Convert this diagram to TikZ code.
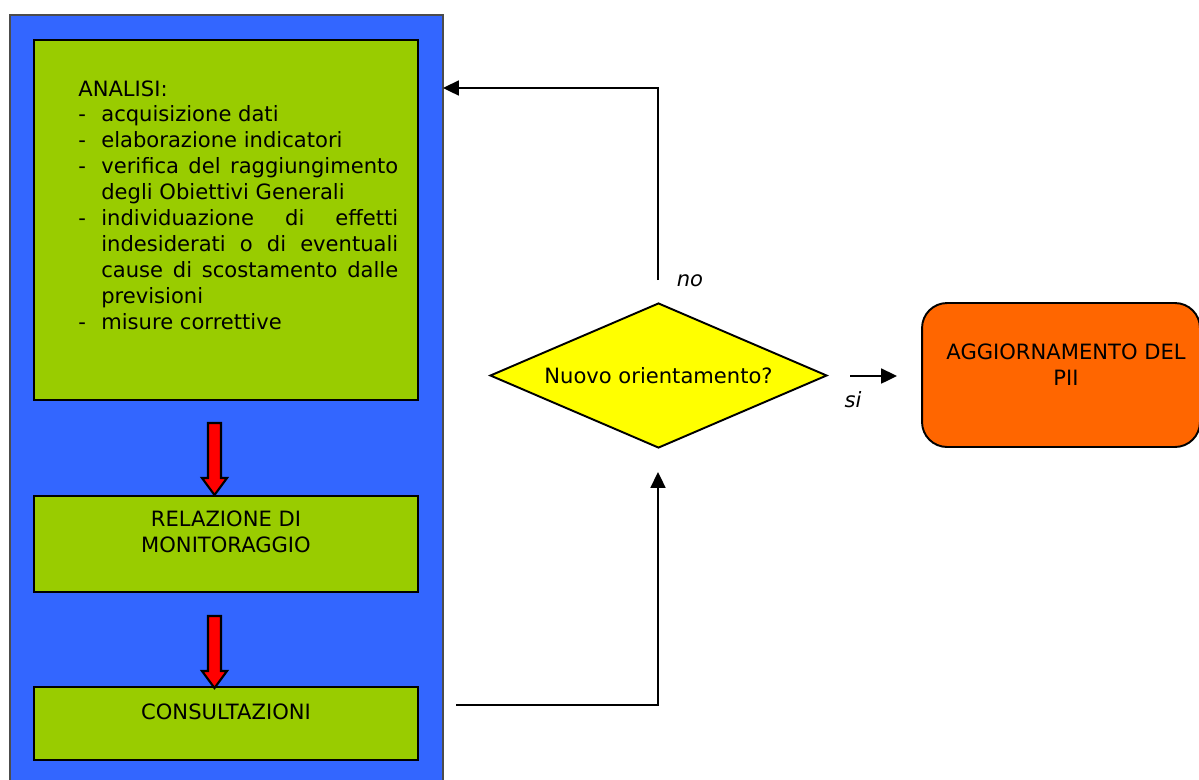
\documentclass[tikz,border=0pt]{standalone}
\usepackage{fontspec}
\setmainfont{DejaVu Sans}
\usetikzlibrary{shapes.geometric,arrows.meta}
\definecolor{blu}{HTML}{3366FF}
\definecolor{verde}{HTML}{99CC00}
\definecolor{rosso}{HTML}{FF0000}
\definecolor{giallo}{HTML}{FFFF00}
\definecolor{arancio}{HTML}{FF6600}
\newcommand\frecciarossa[2]{\draw[rossa] (#1,#2) -- ++(13,0) -- ++(0,55) -- ++(6,0) -- ++(-12.5,17) -- ++(-12.5,-17) -- ++(6,0) -- cycle;}
\newcommand\riga[1]{\makebox[5.94cm][s]{#1}}

\begin{document}
\begin{tikzpicture}[x=0.02cm,y=-0.02cm,
  every node/.style={font=\fontsize{12}{14.74}\selectfont,inner sep=0pt},
  scatola/.style={draw,line width=1.2pt,fill=verde,minimum width=7.68cm},
  rossa/.style={draw,line width=1.2pt,fill=rosso},
  linea/.style={line width=1.1pt,-{Triangle[length=9pt,width=8.5pt]}}]
\useasboundingbox (0,0) rectangle (1199,779);
\clip (0,0) rectangle (1199,779);
\node[draw=black!70,line width=1pt,fill=blu,minimum width=8.66cm,minimum height=15.7cm] (fondo) at (226.5,407.5) {};
\node[scatola,minimum height=7.2cm] (analisi) at (226,220) {};
\node[anchor=north west,align=left] (analisitxt) at (78,80) {ANALISI:\\
\makebox[0.46cm][l]{-}acquisizione dati\\
\makebox[0.46cm][l]{-}elaborazione indicatori\\
\makebox[0.46cm][l]{-}\riga{verifica del raggiungimento}\\
\hspace*{0.46cm}degli Obiettivi Generali\\
\makebox[0.46cm][l]{-}\riga{individuazione di effetti}\\
\hspace*{0.46cm}\riga{indesiderati o di eventuali}\\
\hspace*{0.46cm}\riga{cause di scostamento dalle}\\
\hspace*{0.46cm}previsioni\\
\makebox[0.46cm][l]{-}misure correttive};
\node[scatola,minimum height=1.92cm] (relazione) at (226,544) {};
\node[align=center] (relazionetxt) at (226,532) {RELAZIONE DI\\MONITORAGGIO};
\node[scatola,minimum height=1.46cm] (consultazioni) at (226,723.5) {};
\node (consultazionitxt) at (226,712) {CONSULTAZIONI};
\frecciarossa{208}{423}
\frecciarossa{208}{616}
\node[draw,line width=1.1pt,fill=giallo,diamond,aspect=2.32,minimum width=6.74cm,minimum height=2.9cm] (decisione) at (658.5,375.5) {Nuovo orientamento?};
\node[draw,line width=1.1pt,fill=arancio,rounded corners=0.5cm,minimum width=5.56cm,minimum height=2.88cm] (aggiornamento) at (1061,375) {};
\node[align=center] (aggiornamentotxt) at (1066,365) {AGGIORNAMENTO DEL\\PII};
\coordinate (no) at (658,280);
\coordinate (ritorno) at (443,88);
\coordinate (sida) at (850,376);
\coordinate (sia) at (897,376);
\coordinate (uscita) at (456,705);
\coordinate (arrivo) at (658,472);
\draw[linea] (no) |- (ritorno);
\draw[linea] (sida) -- (sia);
\draw[linea] (uscita) -| (arrivo);
\node (nolab) at (690,281) {\itshape no};
\node (silab) at (853,400) {\itshape si};
\end{tikzpicture}
\end{document}
